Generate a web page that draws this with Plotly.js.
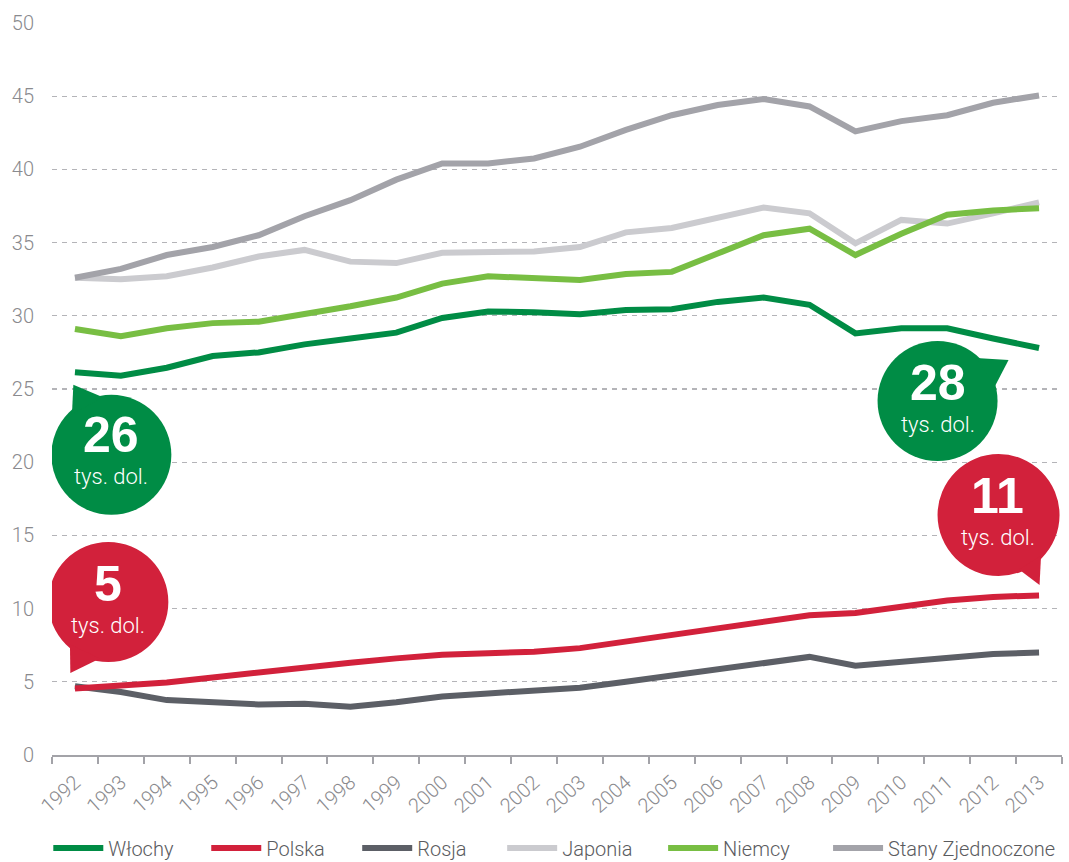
<!DOCTYPE html>
<html><head><meta charset="utf-8">
<script src="https://cdn.plot.ly/plotly-3.0.1.min.js"></script>
<style>html,body{margin:0;padding:0;background:#fff}#chart{width:1069px;height:862px}</style>
</head><body><div id="chart"></div>
<script>
const years = ['1992','1993','1994','1995','1996','1997','1998','1999','2000','2001','2002','2003','2004','2005','2006','2007','2008','2009','2010','2011','2012','2013'];
const seriesNames = ['Włochy','Polska','Rosja','Japonia','Niemcy','Stany Zjednoczone'];
const wlochy = [26.15,25.9,26.45,27.25,27.5,28.05,28.45,28.85,29.85,30.3,30.25,30.1,30.4,30.45,30.95,31.25,30.75,28.8,29.15,29.15,28.45,27.8];
const polska = [4.55,4.7,4.95,5.3,5.65,6.05,6.3,6.6,6.85,6.95,7.05,7.3,7.75,8.1,8.6,9.1,9.55,9.7,10.1,10.55,10.8,10.9];
const rosja = [4.7,4.3,3.75,3.6,3.45,3.5,3.3,3.6,4.0,4.2,4.45,4.6,5.0,5.4,5.8,6.3,6.7,6.1,6.4,6.65,6.9,7.0];
const japonia = [32.6,32.5,32.7,33.3,34.05,34.5,33.7,33.6,34.3,34.35,34.4,34.7,35.7,36.0,36.65,37.4,37.0,34.95,36.55,36.3,37.0,37.75];
const niemcy = [29.1,28.6,29.15,29.5,29.6,30.1,30.65,31.25,32.2,32.7,32.6,32.45,32.85,33.0,34.25,35.5,35.95,34.15,35.6,36.9,37.2,37.35];
const stany = [32.6,33.2,34.15,34.7,35.5,36.8,37.9,39.3,40.4,40.4,40.75,41.55,42.7,43.7,44.4,44.8,44.3,42.6,43.3,43.7,44.55,45.05];
const yTicks = [0,5,10,15,20,25,30,35,40,45,50];
const bubbleTexts = ['26','5','28','11'];
const unitText = 'tys. dol.';

const colors = {
  'Włochy':'#008c45','Polska':'#d2213b','Rosja':'#5c5f66',
  'Japonia':'#cbcbcf','Niemcy':'#78be43','Stany Zjednoczone':'#a3a3a9'
};
const values = {
  'Włochy':wlochy,'Polska':polska,'Rosja':rosja,
  'Japonia':japonia,'Niemcy':niemcy,'Stany Zjednoczone':stany
};
const drawOrder = ['Japonia','Stany Zjednoczone','Niemcy','Włochy','Rosja','Polska'];
const legendPx = [53,211,362,507,668,833];
const plotL = 51.7, plotW = 1010.3, plotB = 755, plotH = 732;

const traces = drawOrder.map(name => {
  const idx = seriesNames.indexOf(name);
  return {
    type:'scatter', mode:'lines', name:name, x:years, y:values[name],
    line:{color:colors[name], width:6},
    legend: idx === 0 ? 'legend' : 'legend' + (idx+1),
    hoverinfo:'skip'
  };
});

const baseFont = {family:'Roboto, "Liberation Sans", Arial, sans-serif', weight:300};
const layout = {
  width:1069, height:862,
  margin:{l:plotL, r:1069-plotL-plotW, t:23, b:862-plotB, autoexpand:false},
  paper_bgcolor:'#fff', plot_bgcolor:'#fff',
  font:Object.assign({size:19, color:'#8a8a8e'}, baseFont),
  xaxis:{
    type:'category', range:[-0.5, years.length-0.5], automargin:false,
    showline:true, linecolor:'#a3a3a8', linewidth:2,
    ticks:'outside', tickson:'boundaries', ticklen:7, tickwidth:2, tickcolor:'#a3a3a8',
    tickangle:-42, showgrid:false, zeroline:false, ticklabelstandoff:6,
    tickfont:Object.assign({size:20, color:'#8a8a8e'}, baseFont)
  },
  yaxis:{
    range:[0,50], tickvals:yTicks, ticktext:yTicks.map(String), automargin:false,
    showline:false, zeroline:false, ticks:'',
    showgrid:true, gridcolor:'#b4b4b8', gridwidth:1.3, griddash:'5px,5px',
    ticklabelstandoff:17,
    tickfont:Object.assign({size:20, color:'#8a8a8e'}, baseFont)
  },
  showlegend:true,
  shapes:[], annotations:[]
};

seriesNames.forEach((n,i) => {
  const key = i === 0 ? 'legend' : 'legend' + (i+1);
  layout[key] = {
    orientation:'h', x:(legendPx[i]-plotL-5)/plotW, xanchor:'left',
    y:(plotB-848)/plotH, yanchor:'middle', itemwidth:50,
    bgcolor:'rgba(0,0,0,0)', borderwidth:0,
    font:Object.assign({size:20, color:'#5a5b5e'}, baseFont)
  };
});

// bubbles anchored to data points (category index), offsets in pixels (y up)
const bubbles = [
  {name:'Włochy', i:0, text:bubbleTexts[0], c:[36.4,-82.7], r:60,
   tail:[[-1.6,-12.7],[28,-25],[-3,-42]], num:[36,-63], unit:[36,-104]},
  {name:'Polska', i:0, text:bubbleTexts[1], c:[33.4,86.4], r:60,
   tail:[[-4.6,15.4],[-5,44],[25,30]], num:[33,104], unit:[33,63]},
  {name:'Włochy', i:years.length-1, text:bubbleTexts[2], c:[-101.5,-53], r:60,
   tail:[[-30.5,-12],[-63,-10],[-44,-38]], num:[-101,-35], unit:[-101,-76]},
  {name:'Polska', i:years.length-1, text:bubbleTexts[3], c:[-40.5,80.4], r:61,
   tail:[[0.5,10.4],[2,40],[-20,26]], num:[-42,99], unit:[-41,58]}
];
bubbles.forEach(b => {
  const col = colors[b.name];
  const xa = b.i, ya = values[b.name][b.i];
  layout.shapes.push({
    type:'circle', xref:'x', yref:'y', xsizemode:'pixel', ysizemode:'pixel',
    xanchor:xa, yanchor:ya,
    x0:b.c[0]-b.r, x1:b.c[0]+b.r, y0:b.c[1]-b.r, y1:b.c[1]+b.r,
    fillcolor:col, line:{width:0}, layer:'above'
  });
  const p = b.tail;
  layout.shapes.push({
    type:'path', xref:'x', yref:'y', xsizemode:'pixel', ysizemode:'pixel',
    xanchor:xa, yanchor:ya,
    path:'M'+p[0][0]+','+p[0][1]+' L'+p[1][0]+','+p[1][1]+' L'+p[2][0]+','+p[2][1]+' Z',
    fillcolor:col, line:{width:0}, layer:'above'
  });
  layout.annotations.push({
    xref:'x', yref:'y', x:xa, y:ya, xshift:b.num[0], yshift:b.num[1],
    text:'<b>'+b.text+'</b>', showarrow:false, xanchor:'center', yanchor:'middle',
    font:{family:'"Liberation Sans", Arial, sans-serif', size:50, color:'#ffffff'}
  });
  layout.annotations.push({
    xref:'x', yref:'y', x:xa, y:ya, xshift:b.unit[0], yshift:b.unit[1],
    text:unitText, showarrow:false, xanchor:'center', yanchor:'middle',
    font:Object.assign({size:22, color:'#ffffff'}, baseFont)
  });
});

Plotly.newPlot('chart', traces, layout, {displayModeBar:false, staticPlot:true});
</script>
</body></html>
